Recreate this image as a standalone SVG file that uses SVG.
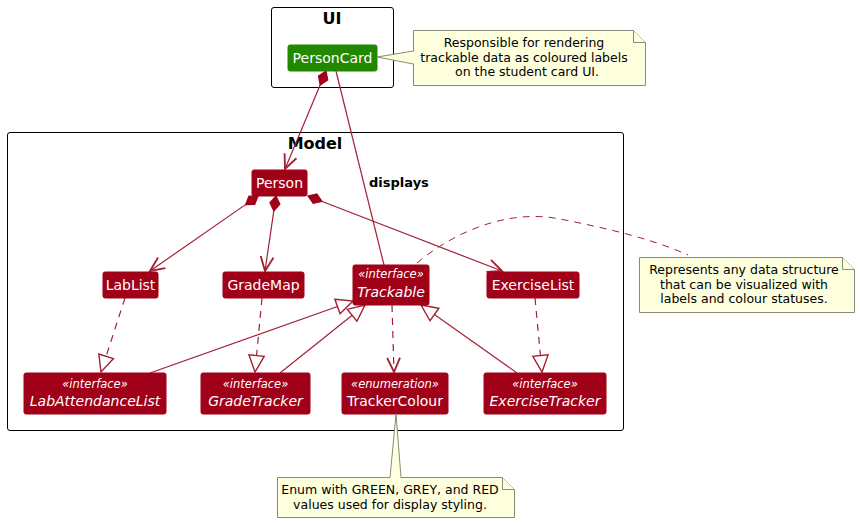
<svg xmlns="http://www.w3.org/2000/svg" width="860" height="523" viewBox="0 0 860 523">
<style>
text{font-family:"DejaVu Sans","Liberation Sans",sans-serif}
.pkg{fill:#fff;stroke:#000;stroke-width:1}
.ptitle{font-size:16px;font-weight:bold;fill:#000;text-anchor:middle}
.node{fill:#A00018;stroke:#A00018}
.green{fill:#228800;stroke:#228800}
.name{font-size:14px;fill:#fff;text-anchor:middle}
.iname{font-size:14px;fill:#fff;text-anchor:middle;font-style:italic}
.stereo{font-size:11.5px;fill:#fff;text-anchor:middle;font-style:italic}
.note{fill:#FEFFDD;stroke:#8A8A7A;stroke-width:1}
.ntext{font-size:12.5px;fill:#000;text-anchor:middle}
.edge{fill:none;stroke:#A31F34;stroke-width:1.2}
.dash{stroke-dasharray:7,6}
.ndash{fill:none;stroke:#A31F34;stroke-width:1;stroke-dasharray:7,6}
.lbl{font-size:13px;font-weight:bold;fill:#000}
</style>
<defs>
<marker id="open" markerUnits="userSpaceOnUse" markerWidth="20" markerHeight="20" viewBox="-12 -7 14 14" refX="0" refY="0" orient="auto">
<path d="M-10,-4.5 L0,0 L-10,4.5" fill="none" stroke="#A31F34" stroke-width="1.3"/>
</marker>
<marker id="diamond" markerUnits="userSpaceOnUse" markerWidth="20" markerHeight="20" viewBox="-1 -6 16 12" refX="0" refY="0" orient="auto">
<path d="M0,0 L6,-4 L12,0 L6,4 Z" fill="#A00018" stroke="#A00018"/>
</marker>
<marker id="tri" markerUnits="userSpaceOnUse" markerWidth="20" markerHeight="20" viewBox="-15 -8 17 16" refX="0" refY="0" orient="auto">
<path d="M-14,-6.5 L0,0 L-14,6.5 Z" fill="#fff" stroke="#A31F34" stroke-width="1.2"/>
</marker>
</defs>

<g id="pkg-UI">
<rect class="pkg" x="271.5" y="7.5" width="122" height="80" rx="2.5"/>
<text class="ptitle" x="332" y="24">UI</text>
</g>
<g id="pkg-Model">
<rect class="pkg" x="7.5" y="132.5" width="616" height="298" rx="2.5"/>
<text class="ptitle" x="315" y="149">Model</text>
</g>

<g id="connectors">
<line class="edge" x1="326" y1="71" x2="285" y2="169" marker-start="url(#diamond)" marker-end="url(#open)"/>
<line class="edge" x1="336" y1="71" x2="384" y2="265"/>
<text class="lbl" x="369" y="187">displays</text>
<line class="edge" x1="258" y1="196" x2="150" y2="271" marker-start="url(#diamond)" marker-end="url(#open)"/>
<line class="edge" x1="276" y1="196" x2="265" y2="271" marker-start="url(#diamond)" marker-end="url(#open)"/>
<line class="edge" x1="308" y1="196" x2="502" y2="271" marker-start="url(#diamond)" marker-end="url(#open)"/>
<line class="edge dash" x1="125" y1="298" x2="101" y2="372" marker-end="url(#tri)"/>
<line class="edge dash" x1="262" y1="298" x2="255" y2="372" marker-end="url(#tri)"/>
<line class="edge dash" x1="535" y1="298" x2="542" y2="372" marker-end="url(#tri)"/>
<line class="edge dash" x1="392" y1="305" x2="394" y2="372" marker-end="url(#open)"/>
<line class="edge" x1="150" y1="373" x2="353" y2="301" marker-end="url(#tri)"/>
<line class="edge" x1="280" y1="373" x2="365" y2="305" marker-end="url(#tri)"/>
<line class="edge" x1="517" y1="373" x2="421" y2="305" marker-end="url(#tri)"/>
<path class="ndash" d="M417,263 C450,235 505,208 560,219 C605,228 650,238 688,255"/>
</g>

<g id="PersonCard">
<rect class="green" x="288" y="45" width="89" height="26" rx="2"/>
<text class="name" x="332.5" y="63">PersonCard</text>
</g>
<g id="note-PersonCard">
<polygon class="note" points="377,57 413.5,51 413.5,64"/>
<path class="note" d="M413.5,30.5 H633.5 L645.5,42.5 V85.5 H413.5 Z"/>
<path class="note" d="M633.5,30.5 V42.5 H645.5" fill="none"/>
<line x1="413.5" y1="51.5" x2="413.5" y2="63.5" stroke="#FEFFDD" stroke-width="1.5"/>
<text class="ntext" x="524" y="47">Responsible for rendering</text>
<text class="ntext" x="524" y="62">trackable data as coloured labels</text>
<text class="ntext" x="527" y="76">on the student card UI.</text>
</g>

<g id="Person">
<rect class="node" x="252" y="170" width="55" height="26" rx="2"/>
<text class="name" x="279.5" y="188">Person</text>
</g>
<g id="LabList">
<rect class="node" x="103" y="272" width="55" height="26" rx="2"/>
<text class="name" x="130.5" y="290">LabList</text>
</g>
<g id="GradeMap">
<rect class="node" x="223" y="272" width="81" height="26" rx="2"/>
<text class="name" x="263.5" y="290">GradeMap</text>
</g>
<g id="Trackable">
<rect class="node" x="353" y="265" width="76" height="40" rx="2"/>
<text class="stereo" x="391" y="278">«interface»</text>
<text class="iname" x="391" y="297">Trackable</text>
</g>
<g id="ExerciseList">
<rect class="node" x="487" y="272" width="92" height="26" rx="2"/>
<text class="name" x="533" y="290">ExerciseList</text>
</g>
<g id="LabAttendanceList">
<rect class="node" x="24" y="373" width="142" height="41" rx="2"/>
<text class="stereo" x="95" y="388">«interface»</text>
<text class="iname" x="95" y="406">LabAttendanceList</text>
</g>
<g id="GradeTracker">
<rect class="node" x="201" y="373" width="109" height="41" rx="2"/>
<text class="stereo" x="255.5" y="388">«interface»</text>
<text class="iname" x="255.5" y="406">GradeTracker</text>
</g>
<g id="TrackerColour">
<rect class="node" x="342" y="373" width="106" height="41" rx="2"/>
<text class="stereo" x="395" y="388">«enumeration»</text>
<text class="name" x="395" y="406">TrackerColour</text>
</g>
<g id="ExerciseTracker">
<rect class="node" x="484" y="373" width="122" height="41" rx="2"/>
<text class="stereo" x="545" y="388">«interface»</text>
<text class="iname" x="545" y="406">ExerciseTracker</text>
</g>

<g id="note-Trackable">
<path class="note" d="M639.5,257.5 H842.5 L854.5,269.5 V312.5 H639.5 Z"/>
<path class="note" d="M842.5,257.5 V269.5 H854.5" fill="none"/>
<text class="ntext" x="744" y="274">Represents any data structure</text>
<text class="ntext" x="744" y="289">that can be visualized with</text>
<text class="ntext" x="744" y="303">labels and colour statuses.</text>
</g>

<g id="note-TrackerColour">
<polygon class="note" points="396,414 390,477.5 401,477.5"/>
<path class="note" d="M277.5,477.5 H502.5 L514.5,489.5 V517.5 H277.5 Z"/>
<path class="note" d="M502.5,477.5 V489.5 H514.5" fill="none"/>
<line x1="390.5" y1="477.5" x2="400.5" y2="477.5" stroke="#FEFFDD" stroke-width="1.5"/>
<text class="ntext" x="390" y="494">Enum with GREEN, GREY, and RED</text>
<text class="ntext" x="390" y="509">values used for display styling.</text>
</g>
</svg>
